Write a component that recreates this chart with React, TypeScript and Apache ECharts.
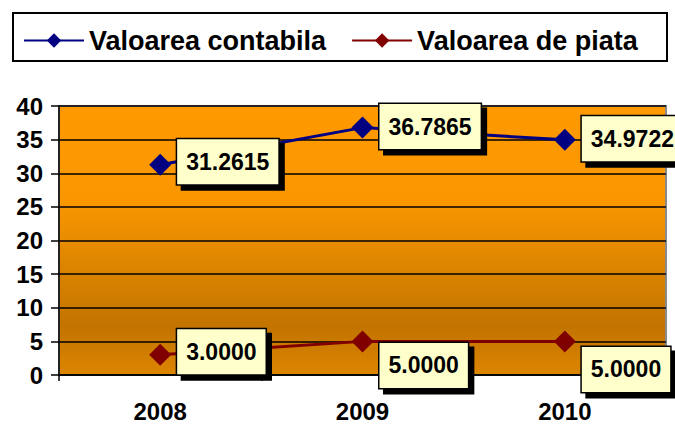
import React, { useEffect, useRef } from "react";
import * as echarts from "echarts";

const categories = ["2008", "2009", "2010"];
const contabila = [31.2615, 36.7865, 34.9722];
const piata = [3.0, 5.0, 5.0];
const seriesNames = ["Valoarea contabila", "Valoarea de piata"];
const yTicks = { min: 0, max: 40, interval: 5 };

const contabilaOffsets = [[0, -3], [0, -1], [0, -1]];
const piataOffsets = [[0, -3], [0, 24], [0, 28]];

const FONT = "Arial, 'Liberation Sans', sans-serif";

export default function App() {
  const ref = useRef<HTMLDivElement>(null);
  useEffect(() => {
    if (!ref.current) return;
    const chart = echarts.init(ref.current, null, { renderer: "svg" });
    const labelStyle = {
      show: true,
      position: "right" as const,
      distance: 6,
      formatter: (p: any) => Number(p.value).toFixed(4),
      fontFamily: FONT,
      fontWeight: "bold" as const,
      fontSize: 23,
      color: "#000",
      backgroundColor: "#FFFFCC",
      borderColor: "#000",
      borderWidth: 1.5,
      padding: [12, 9, 10, 9],
      shadowColor: "#000",
      shadowBlur: 0,
      shadowOffsetX: 5,
      shadowOffsetY: 5,
    };
    chart.setOption({
      animation: false,
      graphic: [
        {
          type: "rect",
          shape: { x: 13, y: 13, width: 654, height: 48 },
          style: { fill: "#fff", stroke: "#000", lineWidth: 2 },
          z: -1,
        },
      ],
      legend: {
        left: 18,
        top: 22,
        itemWidth: 60,
        itemHeight: 18,
        itemGap: 25,
        textStyle: { fontFamily: FONT, fontWeight: "bold", fontSize: 27, color: "#000" },
        data: seriesNames,
      },
      grid: {
        left: 59,
        right: 9,
        top: 106,
        bottom: 49,
        show: true,
        borderColor: "#8a8a8a",
        borderWidth: 2,
        backgroundColor: new echarts.graphic.LinearGradient(0, 0, 0, 1, [
          { offset: 0, color: "#FF9900" },
          { offset: 0.35, color: "#FA9700" },
          { offset: 0.82, color: "#C27400" },
          { offset: 1, color: "#DC8500" },
        ]),
      },
      xAxis: {
        type: "category",
        data: categories,
        boundaryGap: true,
        axisLine: { lineStyle: { color: "#000", width: 1.5 } },
        axisTick: { show: true, length: 6, lineStyle: { color: "#000", width: 1.5 } },
        axisLabel: {
          margin: 24,
          fontFamily: FONT,
          fontWeight: "bold",
          fontSize: 24,
          color: "#000",
        },
      },
      yAxis: {
        type: "value",
        min: yTicks.min,
        max: yTicks.max,
        interval: yTicks.interval,
        axisLine: { show: true, lineStyle: { color: "#000", width: 1.5 } },
        axisTick: { show: true, length: 8, lineStyle: { color: "#000", width: 1.5 } },
        splitLine: { lineStyle: { color: "#000", width: 1.5 } },
        axisLabel: {
          margin: 16,
          fontFamily: FONT,
          fontWeight: "bold",
          fontSize: 24,
          color: "#000",
        },
      },
      series: [
        {
          name: seriesNames[0],
          type: "line",
          data: contabila.map((v, i) => ({ value: v, label: { offset: contabilaOffsets[i] } })),
          symbol: "diamond",
          symbolSize: 22,
          lineStyle: { color: "#000080", width: 3 },
          itemStyle: { color: "#000080" },
          label: labelStyle,
          z: 3,
        },
        {
          name: seriesNames[1],
          type: "line",
          data: piata.map((v, i) => ({ value: v, label: { offset: piataOffsets[i] } })),
          symbol: "diamond",
          symbolSize: 22,
          lineStyle: { color: "#800000", width: 3 },
          itemStyle: { color: "#800000" },
          label: labelStyle,
          z: 3,
        },
      ],
    });
    return () => chart.dispose();
  }, []);
  return <div ref={ref} style={{ width: 675, height: 424, position: "absolute", left: 0, top: 0 }} />;
}
